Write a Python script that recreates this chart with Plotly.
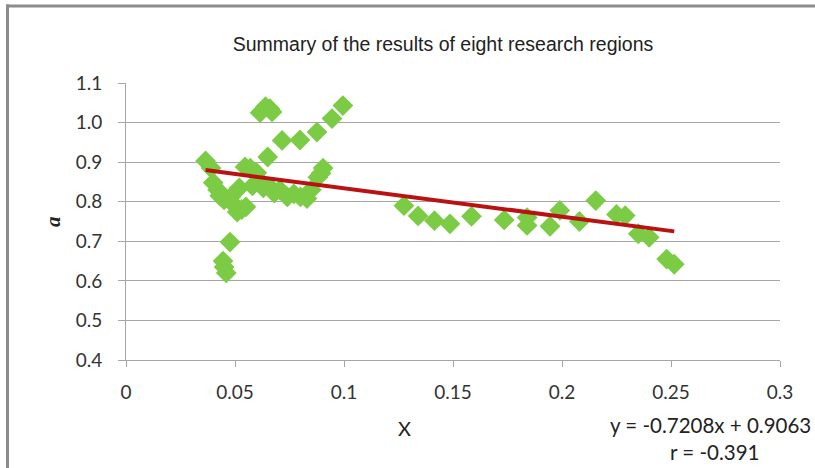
import plotly.graph_objects as go

# Observed values for the eight research regions
x_values = [
    0.0365, 0.039, 0.040, 0.042, 0.043, 0.045, 0.048, 0.050, 0.051, 0.053,
    0.055, 0.052, 0.0546, 0.057, 0.058, 0.060, 0.061, 0.063, 0.066, 0.068,
    0.0706, 0.074, 0.077, 0.080, 0.083, 0.085, 0.088, 0.0895, 0.0904, 0.065,
    0.0716, 0.0798, 0.0876, 0.0945, 0.0995, 0.0615, 0.064, 0.066, 0.067, 0.0477,
    0.0445, 0.045, 0.046, 0.1275, 0.134, 0.1415, 0.1486, 0.1585, 0.1735, 0.184,
    0.184, 0.1945, 0.199, 0.208, 0.2155, 0.225, 0.229, 0.235, 0.240, 0.248,
    0.2515,
]
a_values = [
    0.903, 0.885, 0.848, 0.830, 0.815, 0.805, 0.812, 0.790, 0.774, 0.780,
    0.787, 0.835, 0.888, 0.885, 0.840, 0.873, 0.855, 0.835, 0.837, 0.822,
    0.830, 0.812, 0.820, 0.812, 0.808, 0.830, 0.862, 0.872, 0.885, 0.913,
    0.955, 0.956, 0.976, 1.010, 1.043, 1.025, 1.040, 1.035, 1.027, 0.698,
    0.650, 0.635, 0.620, 0.790, 0.764, 0.752, 0.744, 0.763, 0.754, 0.760,
    0.740, 0.738, 0.778, 0.750, 0.803, 0.768, 0.765, 0.719, 0.710, 0.655,
    0.642,
]

# Linear fit reported on the chart
slope = -0.7208
intercept = 0.9063
r_value = -0.391

x_ticks = [0, 0.05, 0.1, 0.15, 0.2, 0.25, 0.3]
x_tick_text = ["0", "0.05", "0.1", "0.15", "0.2", "0.25", "0.3"]
y_ticks = [0.4, 0.5, 0.6, 0.7, 0.8, 0.9, 1.0, 1.1]
y_tick_text = ["0.4", "0.5", "0.6", "0.7", "0.8", "0.9", "1.0", "1.1"]

fit_x = [min(x_values), max(x_values)]
fit_y = [slope * v + intercept for v in fit_x]

sans = "Lato, Open Sans, sans-serif"
tick_font = dict(family=sans, size=19, color="#333333")

# Plot-area geometry in pixels, used to place the frame and annotations
PL, PR, PT, PB = 126, 780, 83, 360


def px_x(px):
    return (px - PL) / (PR - PL)


def px_y(py):
    return (PB - py) / (PB - PT)


fig = go.Figure()
fig.add_trace(go.Scatter(
    x=x_values, y=a_values, mode="markers",
    marker=dict(symbol="diamond", size=16, color="#7CCB45", line=dict(width=0)),
    showlegend=False, hoverinfo="x+y",
))
fig.add_trace(go.Scatter(
    x=fit_x, y=fit_y, mode="lines",
    line=dict(color="#BA1212", width=4),
    showlegend=False, hoverinfo="skip",
))

frame = dict(color="#8C8C8C", width=3)

fig.update_layout(
    width=815, height=468,
    margin=dict(l=PL, r=815 - PR, t=PT, b=468 - PB),
    paper_bgcolor="white", plot_bgcolor="white",
    title=dict(
        text="Summary of the results of eight research regions",
        x=443 / 815, y=1 - 44 / 468, xanchor="center", yanchor="middle",
        font=dict(family="Liberation Sans, Arial, sans-serif", size=19.5, color="#222222"),
    ),
    xaxis=dict(
        range=[0, 0.3], tickvals=x_ticks, ticktext=x_tick_text,
        showgrid=False, zeroline=False,
        showline=True, linecolor="#A6A6A6", linewidth=1,
        ticks="outside", ticklen=6, tickcolor="#A6A6A6",
        tickfont=tick_font, ticklabelstandoff=9,
    ),
    yaxis=dict(
        range=[0.4, 1.1], tickvals=y_ticks, ticktext=y_tick_text,
        showgrid=True, gridcolor="#A6A6A6", gridwidth=1, zeroline=False,
        showline=True, linecolor="#A6A6A6", linewidth=1,
        ticks="outside", ticklen=7, tickcolor="#A6A6A6",
        tickfont=tick_font, ticklabelstandoff=12,
    ),
    shapes=[
        # outer frame: left and top edges
        dict(type="line", xref="paper", yref="paper",
             x0=px_x(7.5), x1=px_x(7.5), y0=px_y(470), y1=px_y(4.5),
             line=frame, layer="below"),
        dict(type="line", xref="paper", yref="paper",
             x0=px_x(6), x1=px_x(816), y0=px_y(6), y1=px_y(6),
             line=frame, layer="below"),
    ],
    annotations=[
        dict(text="X", xref="paper", yref="paper",
             x=px_x(404), y=px_y(428),
             xanchor="center", yanchor="middle", showarrow=False,
             font=dict(family=sans, size=20, color="#222222")),
        dict(text="<b><i>a</i></b>", xref="paper", yref="paper",
             x=px_x(53), y=px_y(222), textangle=-90,
             xanchor="center", yanchor="middle", showarrow=False,
             font=dict(family="Liberation Serif, serif", size=21, color="#222222")),
        dict(text=f"y = {slope}x + {intercept}", xref="paper", yref="paper",
             x=px_x(710), y=px_y(425),
             xanchor="center", yanchor="middle", showarrow=False,
             font=dict(family=sans, size=20.5, color="#222222")),
        dict(text=f"r = {r_value}", xref="paper", yref="paper",
             x=px_x(714), y=px_y(452),
             xanchor="center", yanchor="middle", showarrow=False,
             font=dict(family=sans, size=20.5, color="#222222")),
    ],
)

fig.write_html("out.html")
